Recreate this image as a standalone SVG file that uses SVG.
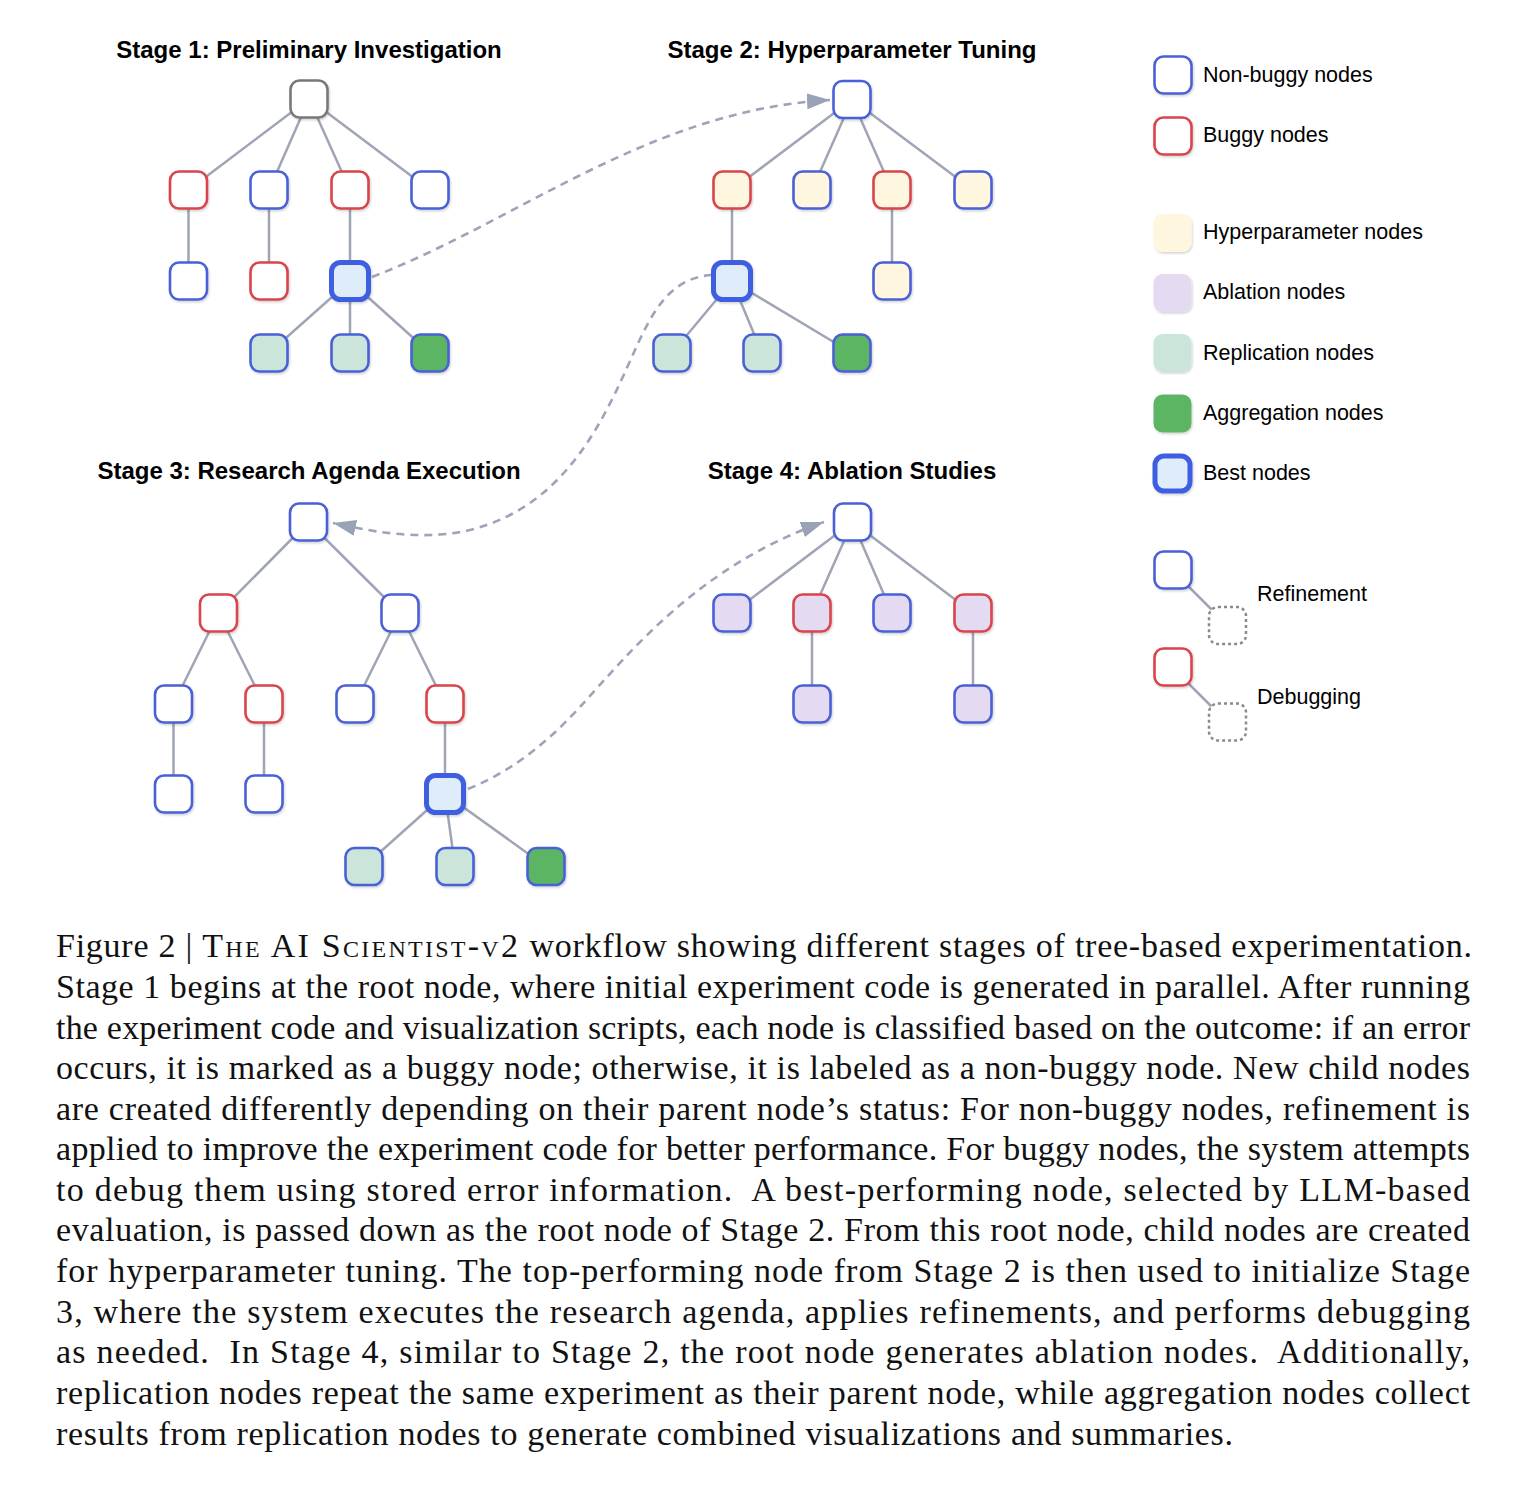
<svg xmlns="http://www.w3.org/2000/svg" width="1532" height="1485" viewBox="0 0 1532 1485">
<defs>
<style>
.n{stroke-width:2.6;rx:9;ry:9;filter:url(#sh)}
.blue{stroke:#4a60d6;fill:#fff}
.red{stroke:#d8444b;fill:#fff}
.gray{stroke:#787878;fill:#fff}
.best{stroke:#3e5fe0;stroke-width:5;fill:#dfedfb}
.hyp{fill:#fff6e0}
.abl{fill:#e4dbf3}
.rep{fill:#cbe5da}
.agg{fill:#5cb562}
.edge{stroke:#a0a5b6;stroke-width:2.5;fill:none}
.dash{stroke:#9ea4b8;stroke-width:2.6;fill:none;stroke-dasharray:8 6}
.h{font-family:"Liberation Sans",Arial,sans-serif;font-weight:bold;font-size:24px;fill:#000;text-anchor:middle}
.lg{font-family:"Liberation Sans",Arial,sans-serif;font-size:21.5px;fill:#000}
.cap{font-family:"Liberation Serif","Times New Roman",serif;font-size:34px;fill:#111}
.sc{font-variant:small-caps;letter-spacing:1.5px}
</style>
<filter id="sh" x="-30%" y="-30%" width="170%" height="170%">
<feDropShadow dx="1" dy="1.5" stdDeviation="1.3" flood-color="#000" flood-opacity="0.18"/>
</filter>
<marker id="arr" viewBox="0 0 23 16" refX="23" refY="8" markerWidth="23" markerHeight="16" markerUnits="userSpaceOnUse" orient="auto">
<path d="M0,0 L23,8 L0,16 z" fill="#9aa2b8"/>
</marker>
</defs>
<rect width="1532" height="1485" fill="#fff"/>

<g id="titles">
<text class="h" x="309" y="58">Stage 1: Preliminary Investigation</text>
<text class="h" x="852" y="58">Stage 2: Hyperparameter Tuning</text>
<text class="h" x="309" y="479">Stage 3: Research Agenda Execution</text>
<text class="h" x="852" y="479">Stage 4: Ablation Studies</text>
</g>

<g id="connectors">
<path class="edge" d="M309,99 L188.5,190 M309,99 L269,190 M309,99 L350,190 M309,99 L430,190 M188.5,190 L188.5,281 M269,190 L269,281 M350,190 L350,281 M350,281 L269,353 M350,281 L350,353 M350,281 L430,353"/>
<path class="edge" d="M852,99.5 L732,190 M852,99.5 L812,190 M852,99.5 L892,190 M852,99.5 L973,190 M732,190 L732,281 M892,190 L892,281 M732,281 L672,353 M732,281 L762,353 M732,281 L852,353"/>
<path class="edge" d="M308.5,522 L218.5,613 M308.5,522 L400,613 M218.5,613 L173.5,704 M218.5,613 L264,704 M400,613 L355,704 M400,613 L445,704 M173.5,704 L173.5,794 M264,704 L264,794 M445,704 L445,794 M445,794 L364,866.5 M445,794 L455,866.5 M445,794 L546,866.5"/>
<path class="edge" d="M852.5,522 L732,613 M852.5,522 L812,613 M852.5,522 L892,613 M852.5,522 L973,613 M812,613 L812,704 M973,613 L973,704"/>
<path class="edge" d="M1186,584 L1214,612 M1186,681 L1214,709"/>
<path class="dash" marker-end="url(#arr)" d="M372,277 C520,220 650,110 830,100"/>
<path class="dash" marker-end="url(#arr)" d="M712,275 C660,278 645,330 620,383 C590,447 550,510 470,530 C420,542 365,530 333,523"/>
<path class="dash" marker-end="url(#arr)" d="M468,789 C510,772 545,745 580,707 C630,652 700,565 824,522"/>
</g>

<g id="stage1">
<g id="s1-root"><rect class="n gray" x="290.5" y="80.5" width="37" height="37"/></g>
<g id="s1-a"><rect class="n red" x="170" y="171.5" width="37" height="37"/></g>
<g id="s1-b"><rect class="n blue" x="250.5" y="171.5" width="37" height="37"/></g>
<g id="s1-c"><rect class="n red" x="331.5" y="171.5" width="37" height="37"/></g>
<g id="s1-d"><rect class="n blue" x="411.5" y="171.5" width="37" height="37"/></g>
<g id="s1-e"><rect class="n blue" x="170" y="262.5" width="37" height="37"/></g>
<g id="s1-f"><rect class="n red" x="250.5" y="262.5" width="37" height="37"/></g>
<g id="s1-best"><rect class="n best" x="331.5" y="262.5" width="37" height="37"/></g>
<g id="s1-rep1"><rect class="n blue rep" x="250.5" y="334.5" width="37" height="37"/></g>
<g id="s1-rep2"><rect class="n blue rep" x="331.5" y="334.5" width="37" height="37"/></g>
<g id="s1-agg"><rect class="n blue agg" x="411.5" y="334.5" width="37" height="37"/></g>
</g>

<g id="stage2">
<g id="s2-root"><rect class="n blue" x="833.5" y="81" width="37" height="37"/></g>
<g id="s2-a"><rect class="n red hyp" x="713.5" y="171.5" width="37" height="37"/></g>
<g id="s2-b"><rect class="n blue hyp" x="793.5" y="171.5" width="37" height="37"/></g>
<g id="s2-c"><rect class="n red hyp" x="873.5" y="171.5" width="37" height="37"/></g>
<g id="s2-d"><rect class="n blue hyp" x="954.5" y="171.5" width="37" height="37"/></g>
<g id="s2-best"><rect class="n best" x="713.5" y="262.5" width="37" height="37"/></g>
<g id="s2-e"><rect class="n blue hyp" x="873.5" y="262.5" width="37" height="37"/></g>
<g id="s2-rep1"><rect class="n blue rep" x="653.5" y="334.5" width="37" height="37"/></g>
<g id="s2-rep2"><rect class="n blue rep" x="743.5" y="334.5" width="37" height="37"/></g>
<g id="s2-agg"><rect class="n blue agg" x="833.5" y="334.5" width="37" height="37"/></g>
</g>

<g id="stage3">
<g id="s3-root"><rect class="n blue" x="290" y="503.5" width="37" height="37"/></g>
<g id="s3-a"><rect class="n red" x="200" y="594.5" width="37" height="37"/></g>
<g id="s3-b"><rect class="n blue" x="381.5" y="594.5" width="37" height="37"/></g>
<g id="s3-c"><rect class="n blue" x="155" y="685.5" width="37" height="37"/></g>
<g id="s3-d"><rect class="n red" x="245.5" y="685.5" width="37" height="37"/></g>
<g id="s3-e"><rect class="n blue" x="336.5" y="685.5" width="37" height="37"/></g>
<g id="s3-f"><rect class="n red" x="426.5" y="685.5" width="37" height="37"/></g>
<g id="s3-g"><rect class="n blue" x="155" y="775.5" width="37" height="37"/></g>
<g id="s3-h"><rect class="n blue" x="245.5" y="775.5" width="37" height="37"/></g>
<g id="s3-best"><rect class="n best" x="426.5" y="775.5" width="37" height="37"/></g>
<g id="s3-rep1"><rect class="n blue rep" x="345.5" y="848" width="37" height="37"/></g>
<g id="s3-rep2"><rect class="n blue rep" x="436.5" y="848" width="37" height="37"/></g>
<g id="s3-agg"><rect class="n blue agg" x="527.5" y="848" width="37" height="37"/></g>
</g>

<g id="stage4">
<g id="s4-root"><rect class="n blue" x="834" y="503.5" width="37" height="37"/></g>
<g id="s4-a"><rect class="n blue abl" x="713.5" y="594.5" width="37" height="37"/></g>
<g id="s4-b"><rect class="n red abl" x="793.5" y="594.5" width="37" height="37"/></g>
<g id="s4-c"><rect class="n blue abl" x="873.5" y="594.5" width="37" height="37"/></g>
<g id="s4-d"><rect class="n red abl" x="954.5" y="594.5" width="37" height="37"/></g>
<g id="s4-e"><rect class="n blue abl" x="793.5" y="685.5" width="37" height="37"/></g>
<g id="s4-f"><rect class="n blue abl" x="954.5" y="685.5" width="37" height="37"/></g>
</g>

<g id="legend">
<g id="lg-nonbuggy"><rect class="n blue" x="1154.5" y="56.5" width="37" height="37"/><text class="lg" x="1203" y="82">Non-buggy nodes</text></g>
<g id="lg-buggy"><rect class="n red" x="1154.5" y="117.5" width="37" height="37"/><text class="lg" x="1203" y="142">Buggy nodes</text></g>
<g id="lg-hyp"><rect class="n hyp" x="1153.5" y="214" width="38" height="38"/><text class="lg" x="1203" y="239">Hyperparameter nodes</text></g>
<g id="lg-abl"><rect class="n abl" x="1153.5" y="274" width="38" height="38"/><text class="lg" x="1203" y="299">Ablation nodes</text></g>
<g id="lg-rep"><rect class="n rep" x="1153.5" y="334" width="38" height="38"/><text class="lg" x="1203" y="360">Replication nodes</text></g>
<g id="lg-agg"><rect class="n agg" x="1153.5" y="394.5" width="38" height="38"/><text class="lg" x="1203" y="420">Aggregation nodes</text></g>
<g id="lg-best"><rect class="n best" x="1155" y="456" width="35" height="35"/><text class="lg" x="1203" y="480">Best nodes</text></g>
<g id="lg-refine"><rect class="n blue" x="1154.5" y="551.5" width="37" height="37"/><rect x="1209" y="607" width="37" height="37" rx="9" fill="#fff" stroke="#8a8a8a" stroke-width="2.5" stroke-dasharray="3 3"/><text class="lg" x="1257" y="601">Refinement</text></g>
<g id="lg-debug"><rect class="n red" x="1154.5" y="648.5" width="37" height="37"/><rect x="1209" y="703.5" width="37" height="37" rx="9" fill="#fff" stroke="#8a8a8a" stroke-width="2.5" stroke-dasharray="3 3"/><text class="lg" x="1257" y="704">Debugging</text></g>
</g>

<g id="caption" class="cap">
<text x="56" y="957" textLength="1416" lengthAdjust="spacing">Figure 2 | <tspan class="sc">The AI Scientist-v2</tspan> workflow showing different stages of tree-based experimentation.</text>
<text x="56" y="998" textLength="1414" lengthAdjust="spacing">Stage 1 begins at the root node, where initial experiment code is generated in parallel. After running</text>
<text x="56" y="1039" textLength="1414" lengthAdjust="spacing">the experiment code and visualization scripts, each node is classified based on the outcome: if an error</text>
<text x="56" y="1079" textLength="1414" lengthAdjust="spacing">occurs, it is marked as a buggy node; otherwise, it is labeled as a non-buggy node. New child nodes</text>
<text x="56" y="1120" textLength="1414" lengthAdjust="spacing">are created differently depending on their parent node’s status: For non-buggy nodes, refinement is</text>
<text x="56" y="1160" textLength="1414" lengthAdjust="spacing">applied to improve the experiment code for better performance. For buggy nodes, the system attempts</text>
<text x="56" y="1201" textLength="1414" lengthAdjust="spacing" xml:space="preserve">to debug them using stored error information.  A best-performing node, selected by LLM-based</text>
<text x="56" y="1241" textLength="1414" lengthAdjust="spacing">evaluation, is passed down as the root node of Stage 2. From this root node, child nodes are created</text>
<text x="56" y="1282" textLength="1414" lengthAdjust="spacing">for hyperparameter tuning. The top-performing node from Stage 2 is then used to initialize Stage</text>
<text x="56" y="1323" textLength="1414" lengthAdjust="spacing">3, where the system executes the research agenda, applies refinements, and performs debugging</text>
<text x="56" y="1363" textLength="1414" lengthAdjust="spacing" xml:space="preserve">as needed.  In Stage 4, similar to Stage 2, the root node generates ablation nodes.  Additionally,</text>
<text x="56" y="1404" textLength="1414" lengthAdjust="spacing">replication nodes repeat the same experiment as their parent node, while aggregation nodes collect</text>
<text x="56" y="1445" textLength="1177" lengthAdjust="spacing">results from replication nodes to generate combined visualizations and summaries.</text>
</g>
</svg>
